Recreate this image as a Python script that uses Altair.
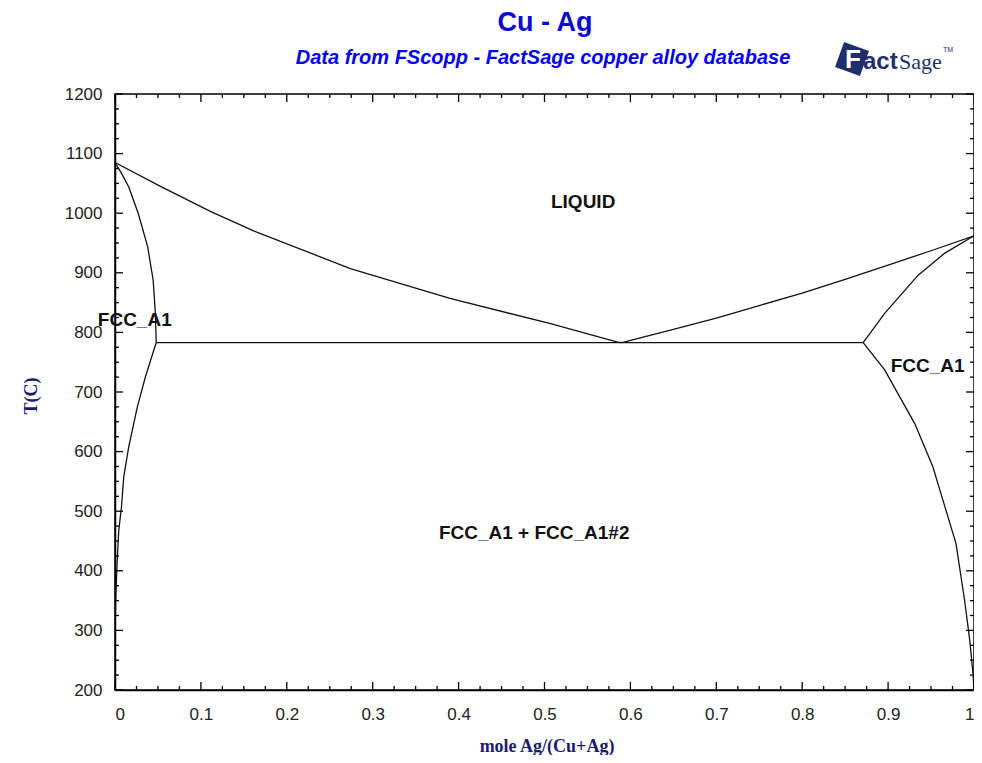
import altair as alt
import pandas as pd

# ---------------- data ----------------
liq_left_x = [0.0, 0.053, 0.111, 0.162, 0.274, 0.390, 0.506, 0.584, 0.590]
liq_left_T = [1085, 1045, 1003, 970, 907, 857, 815, 784, 783]

liq_right_x = [0.590, 0.65, 0.70, 0.75, 0.80, 0.85, 0.90, 0.95, 1.0]
liq_right_T = [783, 805, 824, 845, 866, 889, 913, 937, 962]

sol_left_x = [0.0, 0.008, 0.016, 0.027, 0.038, 0.0444, 0.047, 0.048]
sol_left_T = [1085, 1066, 1044, 1000, 944, 888, 832, 783]

solv_left_x = [0.048, 0.0355, 0.026, 0.016, 0.0102, 0.0076, 0.0044, 0.003, 0.0018, 0.0008, 0.0003]
solv_left_T = [783, 726, 675, 608, 558, 508, 468, 430, 390, 350, 312]

sol_right_x = [0.871, 0.896, 0.935, 0.966, 1.0]
sol_right_T = [783, 832, 896, 933, 962]

solv_right_x = [0.871, 0.896, 0.931, 0.952, 0.966, 0.979, 0.989, 0.995, 0.9988, 1.0]
solv_right_T = [783, 737, 647, 575, 508, 446, 351, 284, 228, 200]

eut_x = [0.048, 0.871]
eut_T = [783, 783]

region_labels = ["LIQUID", "FCC_A1", "FCC_A1", "FCC_A1 + FCC_A1#2"]
region_x = [0.545, 0.023, 0.946, 0.488]
region_T = [1018, 821, 744, 463]

x_major = [0, 0.1, 0.2, 0.3, 0.4, 0.5, 0.6, 0.7, 0.8, 0.9, 1]
x_minor = [round(i * 0.025, 3) for i in range(41) if i % 4 != 0]
y_major = [200, 300, 400, 500, 600, 700, 800, 900, 1000, 1100, 1200]
y_minor = [200 + i * 25 for i in range(41) if i % 4 != 0]

TITLE = "Cu - Ag"
SUBTITLE = "Data from FScopp - FactSage copper alloy database"
X_TITLE = "mole Ag/(Cu+Ag)"
Y_TITLE = "T(C)"

# ---------------- tables ----------------
curves = [
    ("liq_left", liq_left_x, liq_left_T),
    ("liq_right", liq_right_x, liq_right_T),
    ("sol_left", sol_left_x, sol_left_T),
    ("solv_left", solv_left_x, solv_left_T),
    ("sol_right", sol_right_x, sol_right_T),
    ("solv_right", solv_right_x, solv_right_T),
    ("eutectic", eut_x, eut_T),
]
rows = []
for name, xs, ts in curves:
    for i, (xv, tv) in enumerate(zip(xs, ts)):
        rows.append({"curve": name, "i": i, "x": xv, "T": tv})
df_lines = pd.DataFrame(rows)
df_labels = pd.DataFrame({"label": region_labels, "x": region_x, "T": region_T})

W, H = 859, 596
FONT = "Liberation Sans"
NAVY = "#1b1b6e"

xscale = alt.Scale(domain=[0, 1], nice=False, zero=False)
yscale = alt.Scale(domain=[200, 1200], nice=False, zero=False)

x_axis = alt.Axis(values=x_major, format="~g", labelFont=FONT, labelFontSize=17,
                  labelColor="#222222", ticks=False, tickSize=0, grid=False,
                  domainColor="black", domainWidth=1.5, labelPadding=16,
                  labelFlush=True, labelOverlap=False, title=None)
y_axis = alt.Axis(values=y_major, format="d", labelFont=FONT, labelFontSize=17,
                  labelColor="#222222", ticks=False, tickSize=0, grid=False,
                  domainColor="black", domainWidth=1.5, labelPadding=13,
                  labelFlush=False, labelOverlap=False, title=None)

lines = alt.Chart(df_lines).mark_line(color="#111111", strokeWidth=1.3).encode(
    x=alt.X("x:Q", scale=xscale, axis=x_axis),
    y=alt.Y("T:Q", scale=yscale, axis=y_axis),
    detail="curve:N",
    order="i:Q",
)

labels = alt.Chart(df_labels).mark_text(font=FONT, fontSize=19, fontWeight="bold",
                                         color="#111111").encode(
    x=alt.X("x:Q", scale=xscale, axis=x_axis),
    y=alt.Y("T:Q", scale=yscale, axis=y_axis),
    text="label:N",
)

def xticks(vals, length, top):
    d = pd.DataFrame({"v": vals})
    if top:
        y0, y1 = 0, length
    else:
        y0, y1 = H, H - length
    return alt.Chart(d).mark_rule(color="black", strokeWidth=1.3).encode(
        x=alt.X("v:Q", scale=xscale, axis=x_axis),
        y=alt.value(y0), y2=alt.value(y1))

def yticks(vals, length, right):
    d = pd.DataFrame({"v": vals})
    if right:
        x0, x1 = W, W - length
    else:
        x0, x1 = 0, length
    return alt.Chart(d).mark_rule(color="black", strokeWidth=1.3).encode(
        y=alt.Y("v:Q", scale=yscale, axis=y_axis),
        x=alt.value(x0), x2=alt.value(x1))

ticks = [
    xticks(x_major, 8, False), xticks(x_minor, 4, False),
    xticks(x_major, 8, True), xticks(x_minor, 4, True),
    yticks(y_major, 8, False), yticks(y_minor, 4, False),
    yticks(y_major, 8, True), yticks(y_minor, 4, True),
]

def txt(s, x, y, **kw):
    return alt.Chart(pd.DataFrame({"t": [s]})).mark_text(**kw).encode(
        x=alt.value(x), y=alt.value(y), text="t:N")

title = txt(TITLE, 430, -71, font=FONT, fontSize=27, fontWeight="bold",
            color="#0a0ad0", baseline="middle")
subtitle = txt(SUBTITLE, 428, -36, font=FONT, fontSize=20, fontWeight="bold",
               fontStyle="italic", color="#0000ee", baseline="middle")
xtitle = txt(X_TITLE, 432, 658, font="Liberation Serif", fontSize=18,
             fontWeight="bold", color=NAVY, baseline="alphabetic")
ytitle = txt(Y_TITLE, -83, 302, font="Liberation Serif", fontSize=18,
             fontWeight="bold", color=NAVY, angle=270, baseline="middle")

# FactSage logo
logo_shape = alt.Chart(pd.DataFrame({"t": [1]})).mark_square(
    color="#1f2f6b", size=700, angle=20, opacity=1).encode(
    x=alt.value(737), y=alt.value(-35))
logo_f = txt("F", 738, -34, font=FONT, fontSize=26, fontWeight="bold",
             color="white", baseline="middle")
logo_act = txt("act", 748, -32, font=FONT, fontSize=24, fontWeight="bold",
               color="#1f2f6b", baseline="middle", align="left")
logo_sage = txt("Sage", 784, -32, font="Liberation Serif", fontSize=22,
                color="#1f2f6b", baseline="middle", align="left")
logo_tm = txt("TM", 828, -44, font=FONT, fontSize=7, color="#1f2f6b",
              baseline="middle", align="left")

chart = alt.layer(
    lines, labels, *ticks, title, subtitle, xtitle, ytitle,
    logo_shape, logo_f, logo_act, logo_sage, logo_tm
).properties(
    width=W, height=H,
    autosize=alt.AutoSizeParams(type="none"),
    padding={"left": 107, "top": 86, "right": 0, "bottom": 65},
    background="white",
).configure_view(stroke="black", strokeWidth=1.5)

chart.save("out.html", embed_options={"renderer": "svg", "actions": False})
